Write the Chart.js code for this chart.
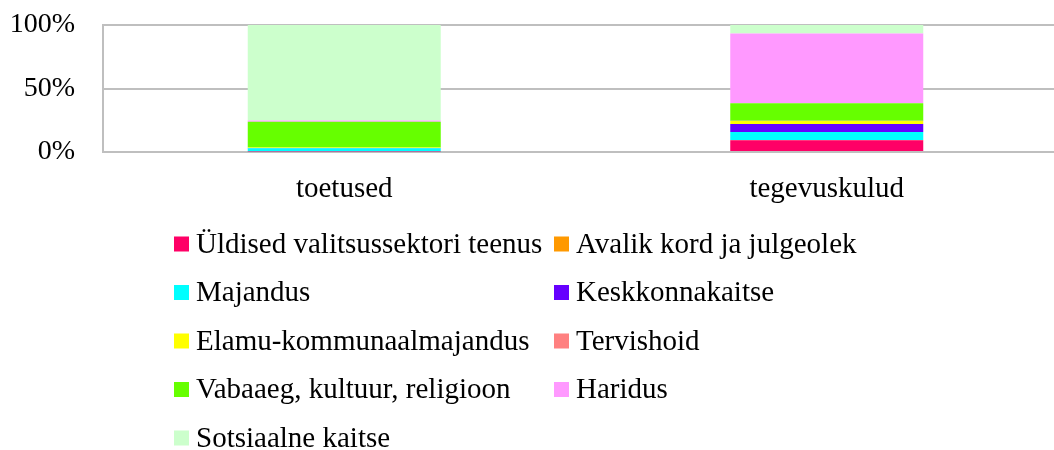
<!DOCTYPE html>
<html>
<head>
<meta charset="utf-8">
<script src="https://cdn.jsdelivr.net/npm/chart.js@4/dist/chart.umd.min.js"></script>
<style>
html,body{margin:0;padding:0;background:#fff;overflow:hidden;width:1054px;height:450px;}
canvas{display:block;}
</style>
</head>
<body>
<canvas id="c" width="1080" height="450"></canvas>
<script>
const categories = ["toetused", "tegevuskulud"];
const seriesNames = [
  "Üldised valitsussektori teenus",
  "Avalik kord ja julgeolek",
  "Majandus",
  "Keskkonnakaitse",
  "Elamu-kommunaalmajandus",
  "Tervishoid",
  "Vabaaeg, kultuur, religioon",
  "Haridus",
  "Sotsiaalne kaitse"
];
const seriesColors = ["#FF0066","#FF9900","#00FFFF","#6600FF","#FFFF00","#FF8080","#66FF00","#FF99FF","#CCFFCC"];
const uldised = [0.4, 9.2];
const avalikKord = [0.0, 0.2];
const majandus = [2.6, 6.3];
const keskkond = [0.1, 6.3];
const elamu = [0.4, 2.4];
const tervishoid = [0.0, 0.2];
const vabaaeg = [20.3, 13.7];
const haridus = [1.0, 55.0];
const sotsiaalne = [75.2, 6.7];
const yTicks = [0, 50, 100];

const seriesValues = [uldised, avalikKord, majandus, keskkond, elamu, tervishoid, vabaaeg, haridus, sotsiaalne];
const FONT = '"Liberation Serif", "Times New Roman", serif';

const legendPlugin = {
  id: 'twoColLegend',
  afterDraw(chart) {
    const ctx = chart.ctx;
    ctx.save();
    ctx.font = '29px ' + FONT;
    ctx.textBaseline = 'middle';
    ctx.textAlign = 'left';
    const colX = [174, 554];
    const y0 = 244, dy = 48.5, box = 15;
    chart.data.datasets.forEach((ds, i) => {
      const col = i % 2, row = Math.floor(i / 2);
      const x = colX[col], y = y0 + row * dy;
      ctx.fillStyle = ds.backgroundColor;
      ctx.fillRect(x, y - box / 2, box, box);
      ctx.fillStyle = '#000';
      ctx.fillText(ds.label, x + 22, y + 1);
    });
    ctx.restore();
  }
};

new Chart(document.getElementById('c'), {
  type: 'bar',
  data: {
    labels: categories,
    datasets: seriesNames.map((n, i) => ({
      label: n,
      data: seriesValues[i],
      backgroundColor: seriesColors[i],
      borderWidth: 0,
      barPercentage: 0.4,
      categoryPercentage: 1.0
    }))
  },
  options: {
    responsive: false,
    devicePixelRatio: 1,
    animation: false,
    layout: { autoPadding: false, padding: { left: 0, right: 12, top: 25, bottom: 238 } },
    plugins: { legend: { display: false }, tooltip: { enabled: false } },
    scales: {
      x: {
        stacked: true,
        grid: { display: false, drawTicks: false },
        border: { display: false },
        ticks: { color: '#000', font: { family: FONT, size: 29 }, padding: 20, maxRotation: 0 },
        afterFit(s) { s.height = 60; s.paddingLeft = 0; s.paddingRight = 0; }
      },
      y: {
        stacked: true,
        min: 0, max: 100,
        afterBuildTicks(s) { s.ticks = yTicks.map(v => ({ value: v })); },
        grid: { color: '#bfbfbf', lineWidth: 2, drawTicks: false },
        border: { display: true, color: '#bfbfbf', width: 2 },
        ticks: { color: '#000', font: { family: FONT, size: 28 }, padding: 28, callback: v => v + '%' },
        afterFit(s) { s.width = 103; s.paddingTop = 0; s.paddingBottom = 0; }
      }
    }
  },
  plugins: [legendPlugin]
});
</script>
</body>
</html>
